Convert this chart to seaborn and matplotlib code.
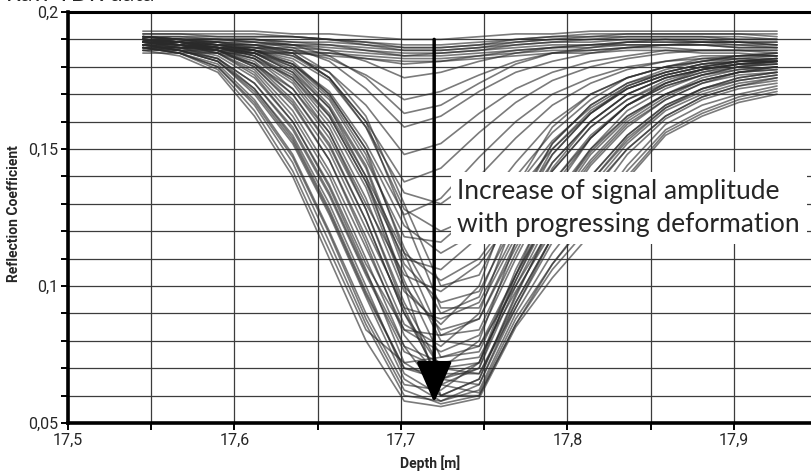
import numpy as np
import pandas as pd
import matplotlib
matplotlib.use("Agg")
import matplotlib.pyplot as plt
from matplotlib.ticker import MultipleLocator, FixedLocator, FixedFormatter
import seaborn as sns

# Sample depths of the TDR trace [m]
depth = [17.545, 17.567, 17.590, 17.612, 17.635, 17.657, 17.679, 17.702, 17.724,
         17.747, 17.769, 17.791, 17.814, 17.836, 17.859, 17.881, 17.903, 17.926]

# Reflection coefficient profiles, early (undeformed) readings
profiles_early = [
    [0.193, 0.193, 0.193, 0.193, 0.192, 0.192, 0.191, 0.190, 0.190, 0.191, 0.192, 0.192, 0.193, 0.193, 0.193, 0.193, 0.193, 0.193],
    [0.191, 0.191, 0.191, 0.191, 0.191, 0.190, 0.189, 0.188, 0.188, 0.189, 0.190, 0.191, 0.191, 0.192, 0.192, 0.192, 0.192, 0.192],
    [0.190, 0.190, 0.190, 0.190, 0.189, 0.189, 0.188, 0.187, 0.187, 0.188, 0.189, 0.190, 0.190, 0.191, 0.191, 0.191, 0.191, 0.190],
    [0.189, 0.189, 0.189, 0.189, 0.188, 0.188, 0.187, 0.186, 0.186, 0.187, 0.188, 0.189, 0.189, 0.190, 0.190, 0.190, 0.189, 0.189],
    [0.188, 0.188, 0.188, 0.188, 0.188, 0.187, 0.186, 0.185, 0.185, 0.186, 0.187, 0.188, 0.188, 0.189, 0.189, 0.189, 0.188, 0.188],
    [0.187, 0.187, 0.187, 0.187, 0.187, 0.186, 0.185, 0.184, 0.184, 0.185, 0.186, 0.187, 0.187, 0.188, 0.188, 0.188, 0.187, 0.187],
    [0.192, 0.192, 0.192, 0.192, 0.191, 0.190, 0.189, 0.187, 0.187, 0.188, 0.190, 0.191, 0.192, 0.192, 0.192, 0.192, 0.192, 0.191],
    [0.186, 0.186, 0.186, 0.186, 0.185, 0.185, 0.184, 0.183, 0.183, 0.184, 0.185, 0.186, 0.186, 0.187, 0.187, 0.186, 0.186, 0.186],
    [0.185, 0.185, 0.185, 0.185, 0.185, 0.184, 0.183, 0.182, 0.182, 0.183, 0.184, 0.185, 0.185, 0.186, 0.186, 0.185, 0.185, 0.184],
    [0.192, 0.192, 0.191, 0.191, 0.191, 0.190, 0.188, 0.186, 0.186, 0.187, 0.189, 0.190, 0.191, 0.191, 0.191, 0.191, 0.190, 0.190],
    [0.189, 0.190, 0.190, 0.190, 0.189, 0.188, 0.186, 0.184, 0.185, 0.186, 0.188, 0.189, 0.190, 0.190, 0.190, 0.189, 0.189, 0.188],
    [0.186, 0.187, 0.187, 0.187, 0.186, 0.185, 0.183, 0.181, 0.182, 0.184, 0.186, 0.187, 0.188, 0.188, 0.188, 0.188, 0.187, 0.187],
]

# Profiles with a developing reflection minimum
profiles_mid = [
    [0.190, 0.190, 0.190, 0.189, 0.188, 0.186, 0.182, 0.176, 0.178, 0.182, 0.185, 0.187, 0.188, 0.189, 0.189, 0.189, 0.189, 0.188],
    [0.189, 0.189, 0.188, 0.188, 0.186, 0.183, 0.177, 0.168, 0.171, 0.177, 0.182, 0.185, 0.186, 0.187, 0.188, 0.188, 0.188, 0.187],
    [0.191, 0.190, 0.190, 0.189, 0.187, 0.182, 0.172, 0.158, 0.162, 0.171, 0.178, 0.182, 0.185, 0.187, 0.188, 0.189, 0.189, 0.189],
    [0.188, 0.188, 0.187, 0.186, 0.184, 0.178, 0.166, 0.148, 0.152, 0.163, 0.172, 0.178, 0.182, 0.184, 0.186, 0.186, 0.186, 0.185],
    [0.190, 0.189, 0.189, 0.188, 0.185, 0.176, 0.160, 0.138, 0.143, 0.156, 0.167, 0.175, 0.180, 0.183, 0.185, 0.186, 0.186, 0.186],
    [0.187, 0.187, 0.186, 0.185, 0.181, 0.171, 0.152, 0.126, 0.132, 0.147, 0.160, 0.170, 0.176, 0.180, 0.182, 0.183, 0.183, 0.182],
    [0.189, 0.188, 0.187, 0.185, 0.180, 0.168, 0.146, 0.118, 0.116, 0.128, 0.145, 0.160, 0.170, 0.176, 0.180, 0.182, 0.183, 0.183],
    [0.188, 0.187, 0.186, 0.183, 0.176, 0.162, 0.138, 0.110, 0.106, 0.118, 0.136, 0.153, 0.165, 0.173, 0.178, 0.181, 0.182, 0.182],
    [0.190, 0.189, 0.188, 0.186, 0.181, 0.170, 0.150, 0.122, 0.112, 0.120, 0.134, 0.150, 0.163, 0.172, 0.177, 0.180, 0.182, 0.182],
    [0.187, 0.186, 0.185, 0.181, 0.172, 0.156, 0.130, 0.104, 0.098, 0.108, 0.126, 0.145, 0.160, 0.170, 0.176, 0.179, 0.181, 0.181],
    [0.191, 0.191, 0.190, 0.190, 0.188, 0.184, 0.176, 0.163, 0.166, 0.174, 0.181, 0.185, 0.187, 0.189, 0.190, 0.190, 0.190, 0.190],
    [0.188, 0.187, 0.187, 0.186, 0.183, 0.175, 0.158, 0.134, 0.130, 0.140, 0.154, 0.166, 0.174, 0.179, 0.182, 0.184, 0.184, 0.184],
    [0.190, 0.189, 0.188, 0.187, 0.184, 0.176, 0.158, 0.128, 0.120, 0.126, 0.140, 0.156, 0.168, 0.176, 0.180, 0.183, 0.184, 0.184],
    [0.189, 0.188, 0.187, 0.185, 0.179, 0.165, 0.140, 0.112, 0.102, 0.110, 0.128, 0.148, 0.163, 0.173, 0.178, 0.181, 0.182, 0.183],
]

# Profiles after strong deformation
profiles_late = [
    [0.186, 0.184, 0.178, 0.162, 0.140, 0.110, 0.080, 0.058, 0.056, 0.059, 0.085, 0.103, 0.119, 0.139, 0.155, 0.162, 0.167, 0.170],
    [0.188, 0.186, 0.182, 0.170, 0.152, 0.126, 0.096, 0.066, 0.058, 0.062, 0.090, 0.112, 0.130, 0.148, 0.161, 0.168, 0.172, 0.174],
    [0.187, 0.185, 0.180, 0.166, 0.145, 0.116, 0.086, 0.060, 0.058, 0.064, 0.094, 0.118, 0.136, 0.152, 0.164, 0.170, 0.174, 0.176],
    [0.189, 0.187, 0.185, 0.178, 0.162, 0.140, 0.110, 0.078, 0.060, 0.066, 0.097, 0.122, 0.140, 0.155, 0.166, 0.172, 0.175, 0.177],
    [0.187, 0.185, 0.181, 0.168, 0.148, 0.120, 0.090, 0.064, 0.062, 0.072, 0.106, 0.132, 0.150, 0.162, 0.170, 0.175, 0.178, 0.179],
    [0.190, 0.188, 0.186, 0.182, 0.170, 0.152, 0.124, 0.090, 0.066, 0.070, 0.100, 0.126, 0.145, 0.159, 0.168, 0.174, 0.177, 0.178],
    [0.188, 0.186, 0.183, 0.174, 0.157, 0.133, 0.104, 0.076, 0.070, 0.080, 0.116, 0.142, 0.158, 0.168, 0.174, 0.178, 0.180, 0.181],
    [0.190, 0.189, 0.187, 0.185, 0.178, 0.162, 0.138, 0.102, 0.074, 0.076, 0.104, 0.130, 0.149, 0.162, 0.170, 0.175, 0.178, 0.179],
    [0.189, 0.188, 0.186, 0.180, 0.166, 0.146, 0.118, 0.086, 0.078, 0.090, 0.126, 0.150, 0.164, 0.172, 0.177, 0.180, 0.182, 0.183],
    [0.191, 0.190, 0.188, 0.186, 0.182, 0.170, 0.150, 0.112, 0.082, 0.084, 0.112, 0.138, 0.155, 0.166, 0.173, 0.177, 0.179, 0.180],
    [0.190, 0.189, 0.187, 0.184, 0.175, 0.158, 0.132, 0.098, 0.086, 0.100, 0.136, 0.158, 0.170, 0.176, 0.180, 0.182, 0.184, 0.185],
    [0.191, 0.190, 0.189, 0.187, 0.185, 0.176, 0.160, 0.125, 0.092, 0.092, 0.118, 0.143, 0.160, 0.170, 0.176, 0.179, 0.181, 0.182],
    [0.190, 0.189, 0.188, 0.186, 0.180, 0.166, 0.144, 0.108, 0.094, 0.098, 0.124, 0.148, 0.163, 0.172, 0.177, 0.180, 0.182, 0.182],
    [0.188, 0.187, 0.183, 0.172, 0.154, 0.128, 0.098, 0.070, 0.068, 0.068, 0.092, 0.116, 0.134, 0.150, 0.162, 0.169, 0.173, 0.175],
    [0.187, 0.185, 0.179, 0.164, 0.142, 0.113, 0.084, 0.072, 0.074, 0.078, 0.100, 0.122, 0.140, 0.155, 0.166, 0.172, 0.176, 0.178],
    [0.189, 0.188, 0.185, 0.177, 0.160, 0.137, 0.108, 0.084, 0.082, 0.088, 0.114, 0.138, 0.154, 0.166, 0.173, 0.177, 0.180, 0.181],
    [0.190, 0.189, 0.186, 0.181, 0.168, 0.149, 0.121, 0.092, 0.088, 0.094, 0.120, 0.145, 0.160, 0.170, 0.176, 0.179, 0.181, 0.182],
    [0.191, 0.190, 0.189, 0.188, 0.186, 0.178, 0.162, 0.130, 0.100, 0.104, 0.130, 0.152, 0.166, 0.174, 0.178, 0.181, 0.183, 0.184],
    [0.189, 0.188, 0.186, 0.183, 0.174, 0.156, 0.128, 0.092, 0.064, 0.061, 0.088, 0.108, 0.125, 0.142, 0.157, 0.164, 0.169, 0.172],
    [0.190, 0.189, 0.187, 0.184, 0.177, 0.163, 0.140, 0.100, 0.060, 0.060, 0.086, 0.106, 0.122, 0.140, 0.156, 0.163, 0.168, 0.171],
    [0.187, 0.185, 0.180, 0.167, 0.147, 0.119, 0.088, 0.062, 0.057, 0.060, 0.086, 0.108, 0.126, 0.144, 0.159, 0.166, 0.170, 0.173],
    [0.188, 0.186, 0.182, 0.172, 0.155, 0.130, 0.100, 0.068, 0.060, 0.066, 0.096, 0.124, 0.144, 0.158, 0.168, 0.174, 0.178, 0.180],
    [0.189, 0.187, 0.184, 0.176, 0.160, 0.136, 0.106, 0.072, 0.064, 0.070, 0.104, 0.134, 0.154, 0.166, 0.174, 0.179, 0.182, 0.183],
    [0.190, 0.188, 0.186, 0.180, 0.167, 0.146, 0.116, 0.082, 0.066, 0.064, 0.092, 0.118, 0.138, 0.154, 0.165, 0.172, 0.176, 0.178],
    [0.190, 0.189, 0.187, 0.183, 0.172, 0.154, 0.128, 0.094, 0.070, 0.072, 0.102, 0.130, 0.150, 0.164, 0.172, 0.177, 0.180, 0.182],
    [0.188, 0.186, 0.183, 0.174, 0.158, 0.134, 0.105, 0.078, 0.072, 0.074, 0.098, 0.120, 0.138, 0.153, 0.165, 0.171, 0.175, 0.177],
    [0.189, 0.188, 0.185, 0.179, 0.164, 0.142, 0.114, 0.084, 0.076, 0.082, 0.110, 0.136, 0.154, 0.166, 0.174, 0.178, 0.181, 0.182],
    [0.191, 0.190, 0.188, 0.185, 0.178, 0.165, 0.143, 0.106, 0.080, 0.078, 0.104, 0.128, 0.146, 0.160, 0.169, 0.175, 0.178, 0.180],
    [0.190, 0.189, 0.187, 0.184, 0.176, 0.160, 0.136, 0.100, 0.084, 0.088, 0.116, 0.142, 0.158, 0.168, 0.175, 0.179, 0.181, 0.182],
    [0.191, 0.190, 0.189, 0.186, 0.181, 0.169, 0.148, 0.114, 0.090, 0.096, 0.128, 0.152, 0.166, 0.174, 0.179, 0.182, 0.184, 0.185],
    [0.189, 0.188, 0.186, 0.181, 0.170, 0.151, 0.124, 0.090, 0.070, 0.068, 0.094, 0.118, 0.135, 0.150, 0.162, 0.169, 0.173, 0.176],
    [0.187, 0.186, 0.182, 0.171, 0.153, 0.127, 0.097, 0.070, 0.066, 0.072, 0.102, 0.128, 0.148, 0.161, 0.170, 0.176, 0.179, 0.180],
]

x_ticks = [17.5, 17.6, 17.7, 17.8, 17.9]
x_labels = ["17,5", "17,6", "17,7", "17,8", "17,9"]
y_ticks = [0.05, 0.10, 0.15, 0.20]
y_labels = ["0,05", "0,1", "0,15", "0,2"]

arrow_top, arrow_tip, arrow_depth = 0.19, 0.0575, 17.72

# Long table: one row per sample of each profile
rows = []
for i, prof in enumerate(profiles_early + profiles_mid + profiles_late):
    for d, v in zip(depth, prof):
        rows.append({"curve": i, "depth": d, "rc": v})
df = pd.DataFrame(rows)

sns.set_style("white")
tick_font = ["Roboto", "DejaVu Sans"]
text_font = ["Lato", "DejaVu Sans"]

fig = plt.figure(figsize=(8.12, 4.75), dpi=100)
ax = fig.add_axes([68 / 812, 52 / 475, 749 / 812, 411 / 475])

ax.set_xlim(17.5, 17.95)
ax.set_ylim(0.05, 0.2)

# grid: every 0.05 m in depth, every 0.01 in reflection coefficient
ax.xaxis.set_major_locator(FixedLocator(x_ticks))
ax.xaxis.set_major_formatter(FixedFormatter(x_labels))
ax.xaxis.set_minor_locator(MultipleLocator(0.05))
ax.yaxis.set_major_locator(FixedLocator(y_ticks))
ax.yaxis.set_major_formatter(FixedFormatter(y_labels))
ax.yaxis.set_minor_locator(MultipleLocator(0.01))
ax.grid(True, which="both", color="#3c3c3c", lw=0.9, zorder=0)
ax.set_axisbelow(True)

sns.lineplot(data=df, x="depth", y="rc", units="curve", estimator=None,
             color="#2a2a2a", alpha=0.62, lw=1.2, sort=False, legend=False, ax=ax)

for side in ["left", "bottom"]:
    ax.spines[side].set_linewidth(2.6)
    ax.spines[side].set_color("black")
ax.spines["top"].set_linewidth(2.2)
ax.spines["top"].set_color("black")
ax.spines["right"].set_visible(False)

ax.tick_params(which="both", direction="out", color="black", width=1.4,
               length=5, left=True, bottom=True, pad=2)
for lab in ax.get_xticklabels() + ax.get_yticklabels():
    lab.set_family(tick_font)
    lab.set_fontsize(11.5)

ax.set_xlabel("Depth [m]", family=tick_font, fontweight="bold", fontsize=10)
ax.set_ylabel("Reflection Coefficient", family=tick_font, fontweight="bold", fontsize=10)
ax.xaxis.set_label_coords(0.483, -0.078)
ax.yaxis.set_label_coords(-0.063, 0.51)

# arrow marking the amplitude increase
ax.annotate("", xy=(arrow_depth, arrow_tip), xytext=(arrow_depth, arrow_top),
            arrowprops=dict(arrowstyle="-|>,head_length=0.85,head_width=0.37",
                            mutation_scale=30, color="black", lw=2.5,
                            shrinkA=0, shrinkB=0), zorder=5)

ax.text(17.734, 0.1285, "Increase of signal amplitude\nwith progressing deformation",
        family=text_font, fontsize=19, ha="left", va="center",
        linespacing=1.4, zorder=6,
        bbox=dict(facecolor="white", edgecolor="none", pad=5))

fig.text(0.008, 1 - 1 / 475, "Raw TDR data", family=text_font,
         fontsize=17, ha="left", va="baseline")

fig.savefig("out.png", dpi=100)
